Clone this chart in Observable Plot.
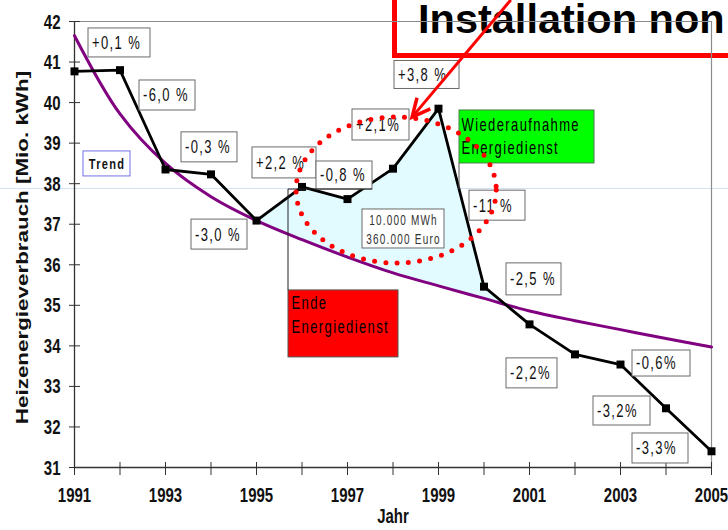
<!DOCTYPE html>
<html>
<head>
<meta charset="utf-8">
<script src="https://cdn.jsdelivr.net/npm/d3@7"></script>
<script src="https://cdn.jsdelivr.net/npm/@observablehq/plot@0.6"></script>
<style>
  html, body { margin: 0; padding: 0; background: #fff; overflow: hidden; width: 728px; height: 530px; }
  #wrap { position: relative; width: 728px; height: 530px; overflow: hidden; }
  #hline { position: absolute; left: 0; top: 188px; width: 728px; height: 1px; background: #d3e1f5; z-index: 0; }
  #titlebox { position: absolute; left: 392px; top: -25px; width: 400px; height: 83px; border: 5px solid #ff0000; box-sizing: border-box; z-index: 1; }
  #title { position: absolute; left: 418px; top: 0px; font: bold 41.5px/37.2px "Liberation Sans", Arial, sans-serif; color: #000; white-space: nowrap; z-index: 1; }
  #chart { position: absolute; left: 0; top: 0; z-index: 2; }
</style>
</head>
<body>
<div id="wrap">
  <div id="hline"></div>
  <div id="titlebox"></div>
  <div id="title"></div>
  <div id="chart"></div>
</div>
<script>
// ---------- data ----------
const years = [1991, 1992, 1993, 1994, 1995, 1996, 1997, 1998, 1999, 2000, 2001, 2002, 2003, 2004, 2005];
const consumption = [40.77, 40.80, 38.35, 38.23, 37.09, 37.92, 37.62, 38.37, 39.85, 35.46, 34.53, 33.79, 33.54, 32.46, 31.40];
const trend = [41.65, 39.72, 38.50, 37.68, 37.09, 36.62, 36.19, 35.80, 35.48, 35.17, 34.86, 34.62, 34.40, 34.18, 33.97];
const changeYears = [1992, 1993, 1994, 1995, 1996, 1997, 1998, 1999, 2000, 2001, 2002, 2003, 2004, 2005];
const changeLabels = ["+0,1 %", "-6,0 %", "-0,3 %", "-3,0 %", "+2,2 %", "-0,8 %", "+2,1%", "+3,8 %", "-11 %", "-2,5 %", "-2,2%", "-0,6%", "-3,2%", "-3,3%"];
const yTicks = [31, 32, 33, 34, 35, 36, 37, 38, 39, 40, 41, 42];
const xTickLabels = [1991, 1993, 1995, 1997, 1999, 2001, 2003, 2005];
const crossingYear = 2000.5;   // where the actual line meets the trend again
const crossingValue = 35.0;
const trendLabel = "Trend";
const savingLabel = "10.000 MWh\n360.000 Euro";
const endLabel = "Ende\nEnergiedienst";
const resumeLabel = "Wiederaufnahme\nEnergiedienst";
const yLabel = "Heizenergieverbrauch [Mio. kWh]";
const xLabel = "Jahr";
const titleText = "Installation non";

// ---------- layout (pixel offsets / sizes, not data) ----------
const K = 1.4; // the original picture is stretched vertically
// per change label: [dx, dy] of box centre from its data point, [w, h] of box
const changeBoxes = [
  [-0.5, -27.2, 62, 29], [2, -74, 56, 30], [-1.5, -27, 56, 30], [-37, 14, 56, 30],
  [-17.5, -24, 64, 31], [-3, -23.6, 56, 28], [-12, -43.7, 57, 31], [-11.5, -33.7, 65, 28],
  [13.5, -81, 56, 30], [4.5, -45, 55, 32], [-43, 19, 51, 30], [41, -1, 58, 26],
  [-44, 2.7, 57, 29], [-51, -2.8, 56, 30]
];
const trendBox = {dx: -13, dy: 50, w: 47, h: 25};
const savingBox = {dx: 10.5, dy: 60.3, w: 82, h: 39};
const resumeBox = {dx: 88.5, dy: 28.3, w: 135, h: 53};
const endBox = {dx: 41.5, dy: 137, w: 110, h: 67};
const ellipseSpec = {cx: 1998.08, cy: 37.83, rx: 2.2, ry: 1.8};
const arrowSpec = {x1: 2000.6, y1: 42.52, x2: 1998.43, y2: 39.63};

// ---------- derived tables ----------
const rows = years.map((year, i) => ({year, value: consumption[i], trend: trend[i]}));
const fillRows = rows.filter(d => d.year >= 1995 && d.year <= 2000)
  .concat([{year: crossingYear, value: crossingValue, trend: crossingValue}]);
const pointOf = yr => rows.find(d => d.year === yr);

const FONT = '"Liberation Sans", Arial, sans-serif';

const changeMarks = changeYears.map((yr, i) => {
  const [dx, dy, w] = changeBoxes[i];
  return Plot.text([{year: yr, value: pointOf(yr).value, label: changeLabels[i]}], {
    x: "year", y: "value", text: "label", dx: dx - w / 2 + 3.5, dy,
    textAnchor: "start", fontSize: 13, fontWeight: "normal", fill: "#111"
  });
});

const chart = Plot.plot({
  width: 728, height: 530,
  marginLeft: 74, marginRight: 17, marginTop: 21, marginBottom: 63,
  x: {domain: [1991, 2005]},
  y: {domain: [31, 42]},
  style: {fontFamily: FONT, fontSize: "15px", fontWeight: "bold", background: "transparent", overflow: "visible", color: "#111"},
  marks: [
    Plot.areaY(fillRows, {x: "year", y1: "trend", y2: "value", fill: "#e2fbff"}),
    Plot.ruleY([42], {stroke: "#8c8c8c", strokeWidth: 1.2}),
    Plot.ruleX([2005], {stroke: "#8c8c8c", strokeWidth: 1.2}),
    Plot.tickY(yTicks, {y: d => d, insetLeft: -5, insetRight: 631, stroke: "#333"}),
    Plot.tickX(years, {x: d => d, insetTop: 441, insetBottom: -8, stroke: "#333"}),
    Plot.ruleX([1991], {stroke: "#333", strokeWidth: 1.3}),
    Plot.ruleY([31], {stroke: "#333", strokeWidth: 1.3}),
    Plot.axisY({ticks: yTicks, tickSize: 0, tickPadding: 14, label: null, tickFormat: d => String(d)}),
    Plot.axisX({ticks: xTickLabels, tickSize: 0, tickPadding: 22, label: null, tickFormat: d => String(d)}),
    Plot.text([yLabel], {frameAnchor: "left", textAnchor: "middle", dx: -52, dy: 3, rotate: -90, fontSize: 16, fill: "#111"}),
    Plot.text([xLabel], {frameAnchor: "bottom", dx: 0, dy: 53, fontSize: 15, fill: "#111"}),
    Plot.line(rows, {x: "year", y: "trend", stroke: "#800080", strokeWidth: 3, curve: "catmull-rom"}),
    Plot.line(rows, {x: "year", y: "value", stroke: "#000", strokeWidth: 2.8}),
    Plot.dot(rows, {x: "year", y: "value", symbol: "square", r: 4.5, fill: "#000"}),
    ...changeMarks,
    Plot.text([{year: 1992, value: trend[1], label: trendLabel}], {
      x: "year", y: "value", text: "label", dx: trendBox.dx, dy: trendBox.dy,
      fontSize: 11, fontWeight: "bold", fill: "#111"
    }),
    Plot.text([{year: 1998, value: pointOf(1998).value, label: savingLabel}], {
      x: "year", y: "value", text: "label", dx: savingBox.dx, dy: savingBox.dy,
      fontSize: 10, fontWeight: "normal", fill: "#333", lineHeight: 1.3
    }),
    Plot.text([{year: 1999, value: pointOf(1999).value, label: resumeLabel}], {
      x: "year", y: "value", text: "label", dx: resumeBox.dx - resumeBox.w / 2 + 2, dy: resumeBox.dy - 1.5,
      textAnchor: "start", fontSize: 13, fontWeight: "normal", fill: "#000", lineHeight: 1.3
    }),
    Plot.text([{year: 1996, value: pointOf(1996).value, label: endLabel}], {
      x: "year", y: "value", text: "label", dx: endBox.dx - endBox.w / 2 + 3, dy: endBox.dy - 10,
      textAnchor: "start", fontSize: 13, fontWeight: "normal", fill: "#000", lineHeight: 1.3
    })
  ]
});

document.getElementById("chart").appendChild(chart);
document.getElementById("title").textContent = titleText;

// ---------- annotation boxes, ellipse, leaders, arrow (through the plot's scales) ----------
const NS = "http://www.w3.org/2000/svg";
const sx = v => chart.scale("x").apply(v);
const sy = v => chart.scale("y").apply(v);
const svg = chart.tagName.toLowerCase() === "svg" ? chart : chart.querySelector("svg");

function el(name, attrs, parent) {
  const e = document.createElementNS(NS, name);
  for (const k in attrs) e.setAttribute(k, attrs[k]);
  if (parent) parent.appendChild(e);
  return e;
}

const boxG = el("g", {});
function box(px, py, b, fill, stroke) {
  const x0 = px + b.dx - b.w / 2, y0 = py + b.dy - b.h / 2;
  el("rect", {x: x0, y: y0, width: b.w, height: b.h, fill, stroke, "stroke-width": 1}, boxG);
  return {x0, y0, x1: x0 + b.w, y1: y0 + b.h};
}
changeYears.forEach((yr, i) => {
  const [dx, dy, w, h] = changeBoxes[i];
  box(sx(yr), sy(pointOf(yr).value), {dx, dy, w, h}, "#fff", "#6a6a6a");
});
box(sx(1992), sy(trend[1]), trendBox, "#fff", "#7070e8");
box(sx(1998), sy(pointOf(1998).value), savingBox, "#fff", "#6a6a6a");
const rb = box(sx(1999), sy(pointOf(1999).value), resumeBox, "#00ff00", "#4a7a4a");
const eb = box(sx(1996), sy(pointOf(1996).value), endBox, "#ff0000", "#555");
// leader lines
const p96 = {x: sx(1996), y: sy(pointOf(1996).value)};
el("polyline", {points: `${eb.x0},${eb.y0} ${eb.x0},${p96.y + 2.6} ${p96.x + 70.5},${p96.y + 2.6}`, fill: "none", stroke: "#222", "stroke-width": 1}, boxG);
el("line", {x1: rb.x0, y1: rb.y1, x2: rb.x0, y2: rb.y1 + 26, stroke: "#555", "stroke-width": 1}, boxG);

const dotG = svg.querySelector('g[aria-label="dot"]');
dotG.parentNode.insertBefore(boxG, dotG.nextSibling);

// letter spacing for annotation texts
svg.querySelectorAll('g[font-size="13"]').forEach(g => g.setAttribute("letter-spacing", "1.4"));
svg.querySelectorAll('g[font-size="10"]').forEach(g => g.setAttribute("letter-spacing", "1.2"));
svg.querySelectorAll('g[font-size="11"]').forEach(g => g.setAttribute("letter-spacing", "1.3"));

// vertical stretch of every chart text (the source image is stretched)
Array.from(svg.querySelectorAll("text")).forEach(t => {
  const tr = t.getAttribute("transform") || "";
  if (tr.includes("rotate")) {
    t.setAttribute("transform", tr.replace(/rotate\(/, `scale(1 ${K}) rotate(`));
    return;
  }
  const w = document.createElementNS(NS, "g");
  t.parentNode.insertBefore(w, t);
  w.appendChild(t);
  const b = w.getBBox();
  const c = b.y + b.height / 2;
  w.setAttribute("transform", `translate(0 ${c}) scale(1 ${K}) translate(0 ${-c})`);
});

// dotted ellipse
const topG = el("g", {}, svg);
const cx = sx(ellipseSpec.cx), cy = sy(ellipseSpec.cy);
el("ellipse", {
  cx, cy, rx: sx(ellipseSpec.cx + ellipseSpec.rx) - cx, ry: sy(ellipseSpec.cy - ellipseSpec.ry) - cy,
  fill: "none", stroke: "#ff0000", "stroke-width": 5, "stroke-linecap": "round", "stroke-dasharray": "0 11.3"
}, topG);

// red arrow from the title box to the ellipse
const ax1 = sx(arrowSpec.x1), ay1 = sy(arrowSpec.y1), ax2 = sx(arrowSpec.x2), ay2 = sy(arrowSpec.y2);
el("line", {x1: ax1, y1: ay1, x2: ax2, y2: ay2, stroke: "#ff0000", "stroke-width": 3}, topG);
const ang = Math.atan2(ay2 - ay1, ax2 - ax1), hl = 20, ha = 0.45;
const h1 = [ax2 - hl * Math.cos(ang - ha), ay2 - hl * Math.sin(ang - ha)];
const h2 = [ax2 - hl * Math.cos(ang + ha), ay2 - hl * Math.sin(ang + ha)];
el("polyline", {points: `${h1} ${ax2},${ay2} ${h2}`, fill: "none", stroke: "#ff0000", "stroke-width": 3.5, "stroke-linejoin": "miter"}, topG);
</script>
</body>
</html>
